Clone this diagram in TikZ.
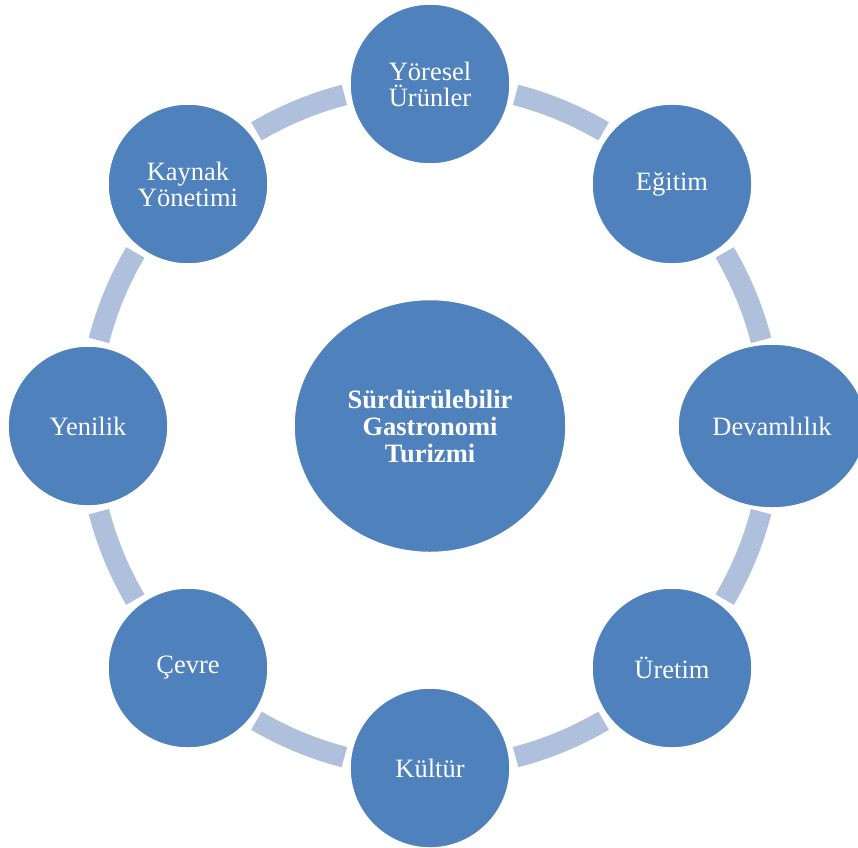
\documentclass[tikz,border=0pt]{standalone}
\usepackage{fontspec}
\setmainfont{Liberation Serif}
\usetikzlibrary{shapes.geometric}
\definecolor{blueF}{HTML}{4F81BD}
\definecolor{ringC}{HTML}{AFC0DC}
\tikzset{
  bubble/.style={circle, fill=blueF, draw=white, line width=1.5pt, minimum size=160pt, inner sep=0pt,
    text=white, align=center, font=\fontsize{26.5}{26}\selectfont},
  wide/.style={ellipse, fill=blueF, draw=white, line width=1.5pt, inner sep=0pt,
    text=white, align=center},
  ring/.style={draw=ringC, line width=21pt, line cap=butt}
}
\begin{document}
\begin{tikzpicture}[x=1pt,y=-1pt]
\useasboundingbox (0,0) rectangle (858,847);
\coordinate (c) at (430,426);
\foreach \k in {0,...,7}{
  \draw[ring] (c) ++({45*\k+14.5}:342) arc[start angle={45*\k+14.5}, end angle={45*\k+30.5}, radius=342];
}
\node[wide, minimum width=272pt, minimum height=253pt, font=\bfseries\fontsize{26.5}{27}\selectfont] (hub) at (c) {Sürdürülebilir\\Gastronomi\\Turizmi};
\node[bubble] (yor) at (430,84) {Yöresel\\Ürünler};
\node[bubble] (egi) at (672,184) {Eğitim};
\node[wide, minimum width=188pt, minimum height=164pt, font=\fontsize{26.5}{26}\selectfont] (dev) at (772,426) {Devamlılık};
\node[bubble] (ure) at (672,668) {Üretim};
\node[bubble] (kul) at (430,768) {Kültür};
\node[bubble] (cev) at (188,668) {Çevre};
\node[bubble] (yen) at (88,426) {Yenilik};
\node[bubble] (kay) at (188,184) {Kaynak\\Yönetimi};
\end{tikzpicture}
\end{document}
